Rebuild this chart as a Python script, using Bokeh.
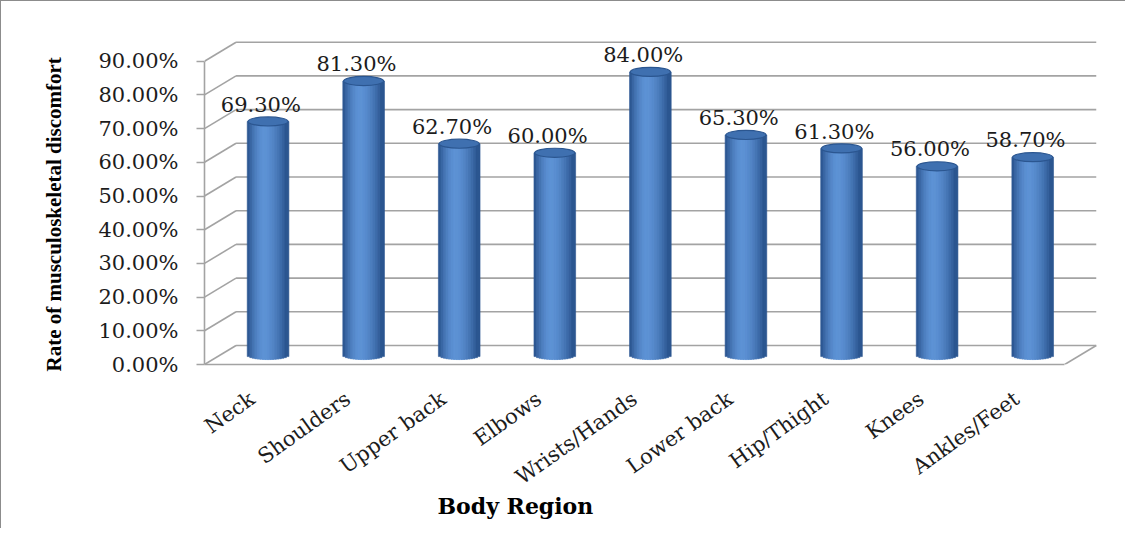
import numpy as np
from bokeh.plotting import figure
from bokeh.models import FixedTicker, Range1d, Title
from bokeh.core.properties import value
from bokeh.embed import file_html
from bokeh.resources import INLINE

# ---- data ----
categories = ["Neck", "Shoulders", "Upper back", "Elbows", "Wrists/Hands",
              "Lower back", "Hip/Thight", "Knees", "Ankles/Feet"]
rates = [69.3, 81.3, 62.7, 60.0, 84.0, 65.3, 61.3, 56.0, 58.7]
rate_labels = ["69.30%", "81.30%", "62.70%", "60.00%", "84.00%",
               "65.30%", "61.30%", "56.00%", "58.70%"]
y_ticks = [0, 10, 20, 30, 40, 50, 60, 70, 80, 90]
y_tick_labels = ["0.00%", "10.00%", "20.00%", "30.00%", "40.00%",
                 "50.00%", "60.00%", "70.00%", "80.00%", "90.00%"]

# ---- style / geometry (3-D look) ----
DX = 0.33      # depth offset in category units
DY = 5.64      # depth offset in value units
BW = 0.42      # cylinder width (category units)
EH = 2.7       # ellipse height (value units)
GRID = "#a3a3a3"
TXT = "#1c1c1c"
SERIF = "DejaVu Serif"

n = len(categories)
xs = np.arange(n, dtype=float)
x_lo, x_hi = -0.5, n - 0.5

p = figure(width=1125, height=528, output_backend="svg", toolbar_location=None,
           x_range=Range1d(-0.5, 9.0), y_range=Range1d(0, 100),
           min_border_left=203, min_border_right=14, min_border_top=26,
           min_border_bottom=165, outline_line_color=None,
           background_fill_color="white", border_fill_color="white",
           styles={"border-style": "solid none none solid",
                   "border-width": "1.5px", "border-color": "#8c8c8c"})
p.grid.visible = False

# back wall gridlines
yt = np.array(y_ticks, dtype=float)
p.segment(x0=[x_lo + DX] * len(yt), y0=yt + DY, x1=[x_hi + DX] * len(yt), y1=yt + DY,
          line_color=GRID, line_width=1.6)
# side wall diagonals
p.segment(x0=[x_lo] * len(yt), y0=yt, x1=[x_lo + DX] * len(yt), y1=yt + DY,
          line_color=GRID, line_width=1.6)
# floor right edge
p.segment(x0=[x_hi], y0=[0], x1=[x_hi + DX], y1=[DY], line_color=GRID, line_width=1.6)

# cylinders: vertical strips for shading
NS = 16
dark = np.array([0x27, 0x50, 0x8a], dtype=float)
light = np.array([0x5e, 0x93, 0xd6], dtype=float)
cx = xs + DX / 2
base = DY / 2
sx, sb, st, sc = [], [], [], []
for k in range(NS):
    u = (k + 0.5) / NS
    t = 1 - abs((u - 0.42) / (0.58 if u > 0.42 else 0.42)) ** 1.7
    col = dark + (light - dark) * t
    hexcol = "#%02x%02x%02x" % tuple(int(c) for c in col)
    drop = (EH / 2) * np.sqrt(max(0.0, 1 - (2 * u - 1) ** 2))
    for i in range(n):
        sx.append(cx[i] - BW / 2 + u * BW)
        sb.append(base - drop)
        st.append(rates[i] + base)
        sc.append(hexcol)
p.vbar(x=sx, bottom=sb, top=st, width=BW / NS * 1.6, fill_color=sc,
       line_color=sc, line_width=0.6)

# top caps
p.ellipse(x=cx, y=np.array(rates) + base, width=BW, height=EH,
          fill_color="#3f70b0", line_color="#2b5690", line_width=1.2)

# data labels
p.text(x=cx - 0.075, y=np.array(rates) + base + 5.0, text=rate_labels,
       text_font=value(SERIF), text_font_size="21px", text_color=TXT,
       text_align="center", text_baseline="middle")

# front y axis
ya = p.yaxis[0]
ya.ticker = FixedTicker(ticks=y_ticks)
ya.major_label_overrides = {t: s for t, s in zip(y_ticks, y_tick_labels)}
ya.bounds = (0, 90)
ya.axis_line_color = GRID
ya.axis_line_width = 1.6
ya.major_tick_line_color = GRID
ya.major_tick_line_width = 1.6
ya.major_tick_out = 8
ya.major_tick_in = 0
ya.minor_tick_line_color = None
ya.major_label_standoff = 18
ya.major_label_text_font = SERIF
ya.major_label_text_font_size = "21px"
ya.major_label_text_color = TXT

# front floor edge / category axis
xa = p.xaxis[0]
xa.ticker = FixedTicker(ticks=list(xs))
xa.major_label_overrides = {float(i): c for i, c in enumerate(categories)}
xa.bounds = (x_lo, x_hi)
xa.axis_line_color = GRID
xa.axis_line_width = 1.6
xa.major_tick_line_color = None
xa.minor_tick_line_color = None
xa.major_label_orientation = 0.62
xa.major_label_standoff = 26
xa.major_label_text_font = SERIF
xa.major_label_text_font_size = "21px"
xa.major_label_text_color = TXT

# axis titles
p.add_layout(Title(text="Rate of musculoskeletal discomfort", align="left", offset=-7,
                   standoff=60, text_font="Liberation Serif", text_font_style="bold",
                   text_font_size="21px", text_color="black"), "left")
p.add_layout(Title(text="Body Region", align="left", offset=233, standoff=-24,
                   text_font=SERIF, text_font_style="bold", text_font_size="22px",
                   text_color="black"), "below")

open("out.html", "w").write(file_html(p, INLINE))
